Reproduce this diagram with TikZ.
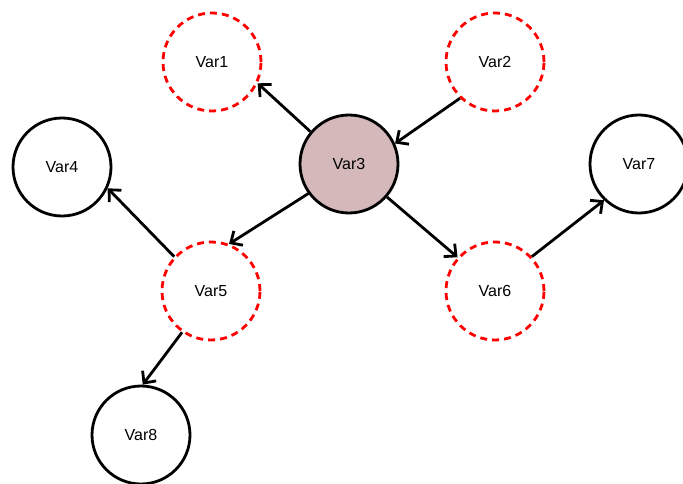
\documentclass[tikz,border=0pt]{standalone}
\usepackage{fontspec}
\setmainfont{Liberation Sans}
\usetikzlibrary{arrows.meta}

\definecolor{rosefill}{RGB}{213,185,186}
\tikzset{
	var/.style={circle, draw, line width=2.8pt, minimum size=98pt, inner sep=0pt, font=\fontsize{16}{18}\selectfont},
	hidden/.style={var, draw=red, dash pattern=on 7pt off 5pt},
	link/.style={-{Straight Barb[length=9pt,width=17pt]}, line width=2.8pt},
}

\begin{document}
\begin{tikzpicture}[x=1pt,y=-1pt]
	\useasboundingbox (0,0) rectangle (683,484);
	
	\node[hidden] (v1) at (212,62) {Var1};
	\node[hidden] (v2) at (495,62) {Var2};
	\node[var, fill=rosefill] (v3) at (349,164) {Var3};
	\node[var] (v4) at (62,167) {Var4};
	\node[hidden] (v5) at (211,291) {Var5};
	\node[hidden] (v6) at (495,291) {Var6};
	\node[var] (v7) at (639,164) {Var7};
	\node[var] (v8) at (141,435) {Var8};
	
	\draw[link] (v3.140) -- (v1.-25);
	\draw[link] (v2.226) -- (v3.24);
	\draw[link] (v3.216) -- (v5.69);
	\draw[link] (v3.-41) -- (v6.138);
	\draw[link] (v5.137) -- (v4.-25);
	\draw[link] (v6.43) -- (v7.226);
	\draw[link] (v5.235) -- (v8.88);
\end{tikzpicture}
\end{document}
